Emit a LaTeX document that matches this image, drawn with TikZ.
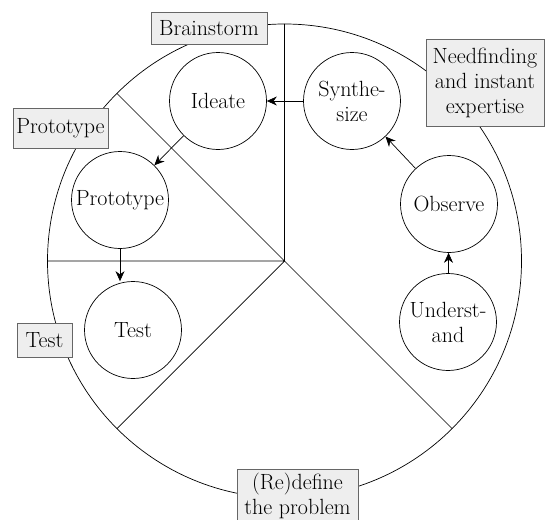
\documentclass[tikz,border=0pt]{standalone}
\usetikzlibrary{arrows.meta, positioning}
\definecolor{boxgray}{HTML}{EEEEEE}
\definecolor{edgegray}{HTML}{666666}
\tikzset{
  stage/.style = {draw, circle, fill=white, minimum size=97, inner sep=0pt, align=center},
  phase/.style = {draw=edgegray, fill=boxgray, inner sep=0pt, align=center}
}

\begin{document}
\begin{tikzpicture}[x=1pt, y=-1pt, > = {Stealth[length=10pt, width=9pt]},
			line width=0.7pt, font=\rmfamily\fontsize{22}{25}\selectfont]
			\useasboundingbox (0,0) rectangle (545,519);
			\coordinate (c) at (284.5,261);
			
			\draw (c) circle (237);
			\draw (c) -- ++(-90:237)
			(c) -- ++(225:237)
			(c) -- ++(180:237)
			(c) -- ++(135:237)
			(c) -- ++(45:237);
			%
			\node[stage] (ideate) at (218,101) {Ideate};
			\node[stage] (synth) at (352,101) {Synthe-\\size};
			\node[stage] (observe) at (449,204) {Observe};
			\node[stage] (understand) at (448,322) {Underst-\\and};
			\node[stage] (proto) at (120,200) {Prototype};
			\node[stage] (test) at (133,330) {Test};
			%
			\node[phase, minimum width=116, minimum height=32] (brainstorm) at (209,28) {Brainstorm};
			\node[phase, minimum width=95, minimum height=40] (prototype) at (60.5,128) {Prototype};
			\node[phase, minimum width=55, minimum height=34] (testing) at (44.5,340) {Test};
			\node[phase, minimum width=118, minimum height=87] (needfinding) at (485,82.5) {Needfinding\\and instant\\expertise};
			\node[phase, minimum width=121, minimum height=54] (redefine) at (297.5,496) {(Re)define\\the problem};
			
			\draw[->] (synth) -- (ideate);
			\draw[->] (observe) -- (synth);
			\draw[->] (understand) -- (observe);
			\draw[->] (ideate) -- (proto);
			\draw[->] (proto.south) -- (proto.south |- test.north);
		\end{tikzpicture}
\end{document}
